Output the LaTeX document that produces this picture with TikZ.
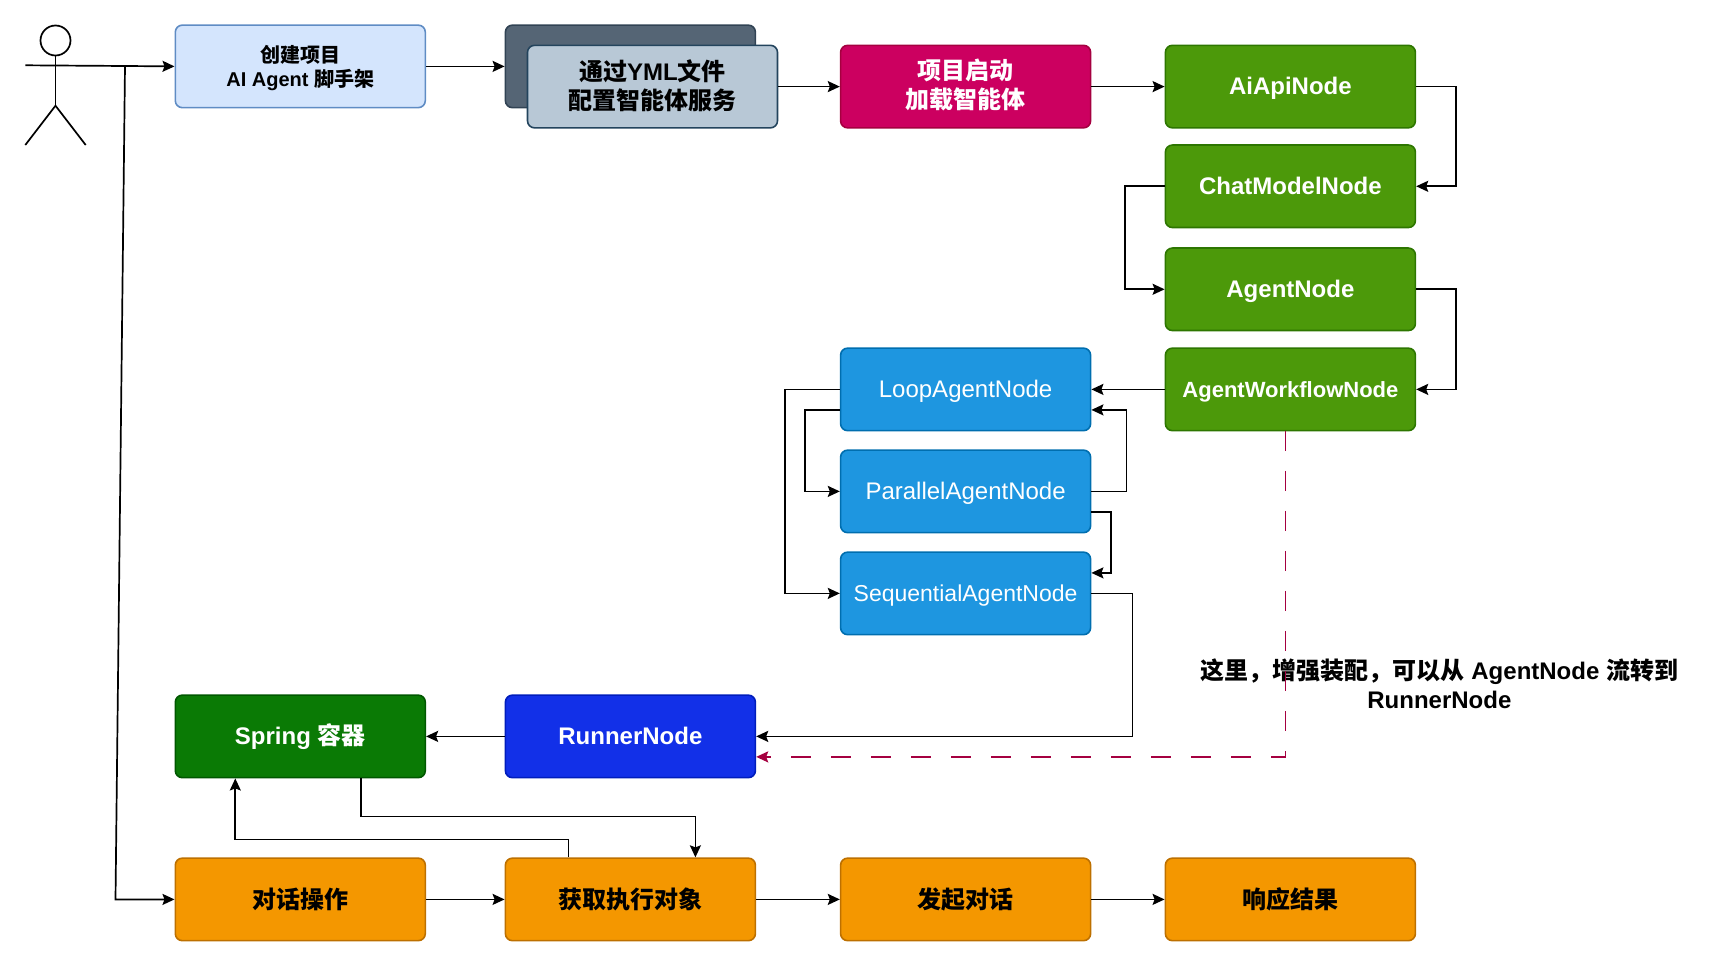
\documentclass[tikz,border=0pt]{standalone}
\usepackage{fontspec}
\setmainfont{Liberation Sans}
\newfontfamily\cjk{Noto Sans CJK SC}
\usetikzlibrary{arrows.meta}
\definecolor{createfill}{HTML}{D4E5FD}
\definecolor{createline}{HTML}{5F8CC4}
\definecolor{stackfill}{HTML}{556575}
\definecolor{stackline}{HTML}{314354}
\definecolor{ymlfill}{HTML}{B8C8D6}
\definecolor{ymlline}{HTML}{23445D}
\definecolor{startfill}{HTML}{CC0060}
\definecolor{startline}{HTML}{A50040}
\definecolor{nodefill}{HTML}{4C990A}
\definecolor{nodeline}{HTML}{2D7600}
\definecolor{agentfill}{HTML}{1E96E0}
\definecolor{agentline}{HTML}{006EAF}
\definecolor{springfill}{HTML}{0A7A05}
\definecolor{springline}{HTML}{005700}
\definecolor{runnerfill}{HTML}{1230E8}
\definecolor{runnerline}{HTML}{001DBC}
\definecolor{talkfill}{HTML}{F49700}
\definecolor{talkline}{HTML}{BD7000}
\tikzset{
	box/.style={draw, line width=1.6pt, rounded corners=7pt, minimum width=250pt, minimum height=82.5pt, inner sep=0pt, align=center, font=\fontsize{24}{29}\selectfont\bfseries},
	oneline/.style={text height=15.5pt, text depth=0pt},
	createbox/.style={box, fill=createfill, draw=createline, font=\fontsize{20}{24}\selectfont\bfseries, text depth=1pt},
	stackbox/.style={box, fill=stackfill, draw=stackline},
	ymlbox/.style={box, fill=ymlfill, draw=ymlline, text depth=5pt},
	startbox/.style={box, fill=startfill, draw=startline, text=white, text depth=5pt},
	greenbox/.style={box, oneline, fill=nodefill, draw=nodeline, text=white},
	bluebox/.style={box, oneline, fill=agentfill, draw=agentline, text=white, font=\fontsize{24}{29}\selectfont},
	springbox/.style={box, fill=springfill, draw=springline, text=white},
	runnerbox/.style={box, fill=runnerfill, draw=runnerline, text=white},
	talkbox/.style={box, fill=talkfill, draw=talkline},
	flow/.style={draw, line width=1.7pt, -{Stealth[length=12pt, width=11pt, inset=2pt]}},
	enhance/.style={draw=startline, line width=1.7pt, dash pattern=on 20pt off 20pt, -{Stealth[length=12pt, width=11pt, inset=2pt]}},
}
\begin{document}
\begin{tikzpicture}[x=1pt, y=-1pt]
	\useasboundingbox (0,0) rectangle (1725,968);

	%actor
	\draw[line width=1.7pt] (55.5,40.5) circle (15pt);
	\draw[line width=1.7pt] (55.5,55.5) -- (55.5,105.7);
	\draw[line width=1.7pt] (25.3,145) -- (55.5,105.7) -- (85.7,145);
	\coordinate (hand) at (25.3,65.3);
	\coordinate (branch) at (125,66);
	\coordinate (turn) at (115.5,899.5);

	%top row
	\node[createbox] (create) at (300.3,66.4) {{\cjk 创建项目}\\AI Agent {\cjk 脚手架}};
	\node[stackbox] (stack) at (630.4,66.4) {};
	\node[ymlbox] (yml) at (652.5,86.6) {{\cjk 通过}YML{\cjk 文件}\\{\cjk 配置智能体服务}};
	\node[startbox] (start) at (965.6,86.6) {{\cjk 项目启动}\\{\cjk 加载智能体}};

	%node column
	\node[greenbox] (aiapi) at (1290.4,86.6) {AiApiNode};
	\node[greenbox] (chat) at (1290.4,186.3) {ChatModelNode};
	\node[greenbox] (agent) at (1290.4,289.3) {AgentNode};
	\node[greenbox, font=\fontsize{22}{26}\selectfont\bfseries] (flownode) at (1290.4,389.4) {AgentWorkflowNode};

	%agent column
	\node[bluebox] (loop) at (965.6,389.4) {LoopAgentNode};
	\node[bluebox] (parallel) at (965.6,491.4) {ParallelAgentNode};
	\node[bluebox, font=\fontsize{23}{29}\selectfont] (sequential) at (965.6,593.4) {SequentialAgentNode};

	%runner row
	\node[springbox] (spring) at (300.3,736.4) {Spring {\cjk 容器}};
	\node[runnerbox] (runner) at (630.4,736.4) {RunnerNode};

	%bottom row
	\node[talkbox] (talk) at (300.3,899.4) {\cjk 对话操作};
	\node[talkbox] (fetch) at (630.4,899.4) {\cjk 获取执行对象};
	\node[talkbox] (send) at (965.6,899.4) {\cjk 发起对话};
	\node[talkbox] (reply) at (1290.4,899.4) {\cjk 响应结果};

	\node[font=\fontsize{24}{29}\selectfont\bfseries, align=center, inner sep=0pt] (tip) at (1439.4,684) {{\cjk 这里，增强装配，可以从} AgentNode {\cjk 流转到}\\RunnerNode};

	%connectors
	\draw[line width=1.7pt] (hand) -- (branch);
	\draw[flow] (branch) -- (create.west);
	\draw[flow] (branch) -- (turn) -- (talk.west);
	\draw[flow] (create.east) -- (stack.west);
	\draw[flow] (yml.east) -- (start.west);
	\draw[flow] (start.east) -- (aiapi.west);
	\draw[flow] (aiapi.east) -- ++(40,0) |- (chat.east);
	\draw[flow] (chat.west) -- ++(-39.5,0) |- (agent.west);
	\draw[flow] (agent.east) -- ++(40,0) |- (flownode.east);
	\draw[flow] (flownode.west) -- (loop.east);
	\draw[flow] (loop.west) -- ++(-55,0) |- (sequential.west);
	\draw[flow] ([yshift=-20.5pt]loop.west) -- ++(-35,0) |- (parallel.west);
	\draw[flow] (parallel.east) -- ++(35,0) |- ([yshift=-20.5pt]loop.east);
	\draw[flow] ([yshift=-20.5pt]parallel.east) -- ++(19.5,0) |- ([yshift=20.5pt]sequential.east);
	\draw[flow] (sequential.east) -- ++(41,0) |- (runner.east);
	\draw[enhance] ([xshift=-5pt]flownode.south) |- ([yshift=-20.5pt]runner.east);
	\draw[flow] (runner.west) -- (spring.east);
	\draw[flow] ([xshift=60.4pt]spring.south) |- ++(0,38) -| ([xshift=65pt]fetch.north);
	\draw[flow] ([xshift=-62pt]fetch.north) |- ++(0,-18) -| ([xshift=-65pt]spring.south);
	\foreach \from/\to in {talk/fetch, fetch/send, send/reply}{
		\draw[flow] (\from.east) -- (\to.west);
	}
\end{tikzpicture}
\end{document}
